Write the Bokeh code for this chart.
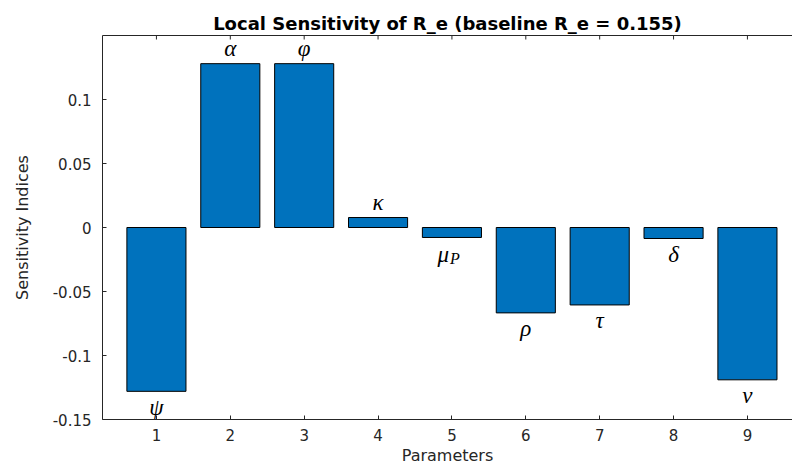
from bokeh.plotting import figure
from bokeh.models import ColumnDataSource, FixedTicker, Range1d, LinearAxis
from bokeh.core.properties import value
from bokeh.embed import file_html
from bokeh.resources import INLINE

positions = [1, 2, 3, 4, 5, 6, 7, 8, 9]
sensitivity = [-0.128, 0.128, 0.128, 0.0078, -0.0078, -0.0667, -0.0605, -0.0086, -0.119]
symbols = ["ψ", "α", "φ", "κ", "μ", "ρ", "τ", "δ", "ν"]
subscripts = ["", "", "", "", "P", "", "", "", ""]
y_ticks = [-0.15, -0.1, -0.05, 0, 0.05, 0.1]
y_tick_labels = ["-0.15", "-0.1", "-0.05", "0", "0.05", "0.1"]
y_min, y_max = -0.15, 0.15

title_text = "Local Sensitivity of R_e (baseline R_e = 0.155)"
x_label = "Parameters"
y_label = "Sensitivity Indices"

FONT = "DejaVu Sans"
TXT = "#262626"

p = figure(width=792, height=468, output_backend="svg", toolbar_location=None,
           x_range=Range1d(0.27, 9.61), y_range=Range1d(y_min, y_max),
           min_border_left=102, min_border_right=0, min_border_top=35, min_border_bottom=49,
           x_axis_label=x_label, y_axis_label=y_label)
p.outline_line_color = None
p.grid.visible = False
p.background_fill_color = "white"
p.border_fill_color = "white"

p.title.text = title_text
p.title.align = "center"
p.title.text_font = FONT
p.title.text_font_size = "18px"
p.title.text_font_style = "bold"
p.title.text_color = "#000000"
p.title.offset = 0
p.title.standoff = 3

src = ColumnDataSource(dict(x=positions, top=sensitivity))
p.vbar(x="x", top="top", bottom=0, width=0.8, source=src,
       fill_color="#0072BD", line_color="#000000", line_width=1)

pos_idx = [i for i, v in enumerate(sensitivity) if v > 0]
neg_idx = [i for i, v in enumerate(sensitivity) if v < 0]
plain_neg = [i for i in neg_idx if not subscripts[i]]
sub_idx = [i for i in neg_idx if subscripts[i]]


def sub_source(idx, texts):
    return ColumnDataSource(dict(x=[positions[i] for i in idx], y=[sensitivity[i] for i in idx],
                                 t=[texts[i] for i in idx]))


common = dict(text_font=value("Liberation Serif"), text_font_style="italic",
              text_color="#000000", text_baseline="middle")
p.text(x="x", y="y", text="t", source=sub_source(pos_idx, symbols), y_offset=-15,
       text_font_size="23px", text_align="center", **common)
p.text(x="x", y="y", text="t", source=sub_source(plain_neg, symbols), y_offset=16,
       text_font_size="23px", text_align="center", **common)
p.text(x="x", y="y", text="t", source=sub_source(sub_idx, symbols), x_offset=-3, y_offset=17,
       text_font_size="23px", text_align="right", **common)
p.text(x="x", y="y", text="t", source=sub_source(sub_idx, subscripts), x_offset=-2, y_offset=21,
       text_font_size="16px", text_align="left", **common)

# inward ticks along the top border (MATLAB box)
p.scatter(x=positions, y=[y_max] * len(positions), marker="dash", angle=1.5708,
          size=8, line_color=TXT, line_width=1)


def style_axis(ax):
    ax.axis_line_color = TXT
    ax.major_tick_line_color = TXT
    ax.major_tick_in = 4
    ax.major_tick_out = 0
    ax.minor_tick_line_color = None
    ax.major_label_text_font = FONT
    ax.major_label_text_font_size = "15px"
    ax.major_label_text_color = TXT
    ax.axis_label_text_font = FONT
    ax.axis_label_text_font_size = "16px"
    ax.axis_label_text_font_style = "normal"
    ax.axis_label_text_color = TXT


xa = p.xaxis[0]
style_axis(xa)
xa.ticker = FixedTicker(ticks=positions)
xa.major_label_standoff = 9
xa.axis_label_standoff = 2

ya = p.yaxis[0]
style_axis(ya)
ya.ticker = FixedTicker(ticks=y_ticks)
ya.major_label_overrides = {t: l for t, l in zip(y_ticks, y_tick_labels)}
ya.major_label_standoff = 11
ya.axis_label_standoff = 18

# top border line of the box (no labels)
top_axis = LinearAxis(ticker=FixedTicker(ticks=[]))
style_axis(top_axis)
top_axis.major_label_standoff = 0
p.add_layout(top_axis, "above")

open("out.html", "w").write(file_html(p, INLINE))
